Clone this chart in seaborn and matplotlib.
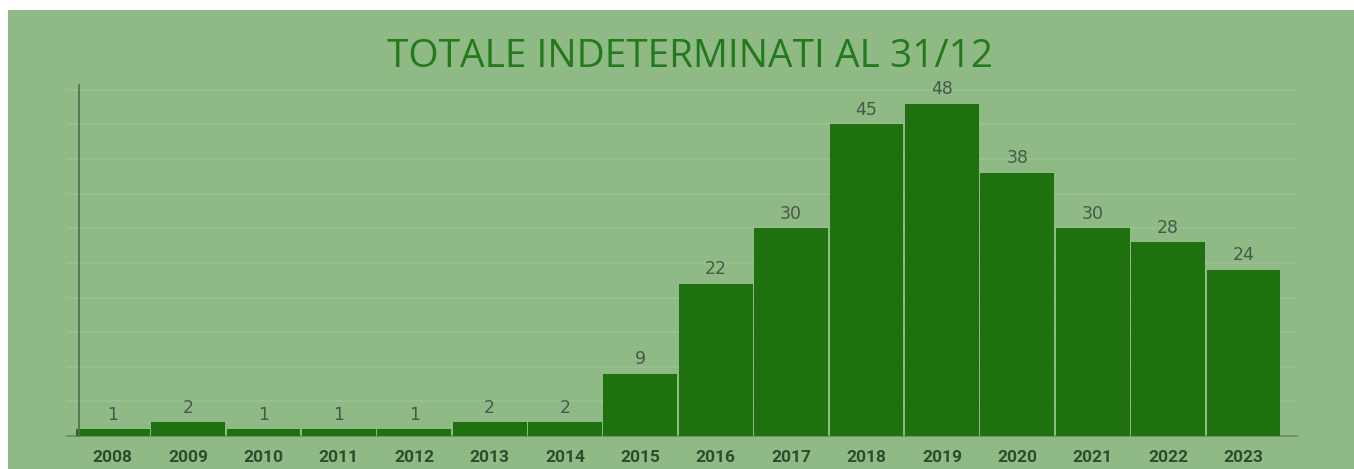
import matplotlib
matplotlib.use("Agg")
import matplotlib.pyplot as plt
import seaborn as sns
import pandas as pd
from matplotlib.patches import Rectangle

sns.set_theme(style="white")

years = ["2008", "2009", "2010", "2011", "2012", "2013", "2014", "2015",
         "2016", "2017", "2018", "2019", "2020", "2021", "2022", "2023"]
totals = [1, 2, 1, 1, 1, 2, 2, 9, 22, 30, 45, 48, 38, 30, 28, 24]
grid_levels = [5, 10, 15, 20, 25, 30, 35, 40, 45, 50]

BG = "#8fba86"
BAR = "#1f700e"
W, H = 1354, 469

df = pd.DataFrame({"anno": years, "totale": totals})

fig = plt.figure(figsize=(W / 100, H / 100), dpi=100, facecolor="white")
# green panel, white strip on top and left
bg = Rectangle((8 / W, 0), 1, (H - 10) / H, transform=fig.transFigure,
               facecolor=BG, edgecolor="none", zorder=-10)
fig.patches.append(bg)

ax = fig.add_axes([67 / W, (H - 436) / H, (1297 - 67) / W, (436 - 85) / H])
ax.set_facecolor("none")
ax.set_zorder(1)

sns.barplot(data=df, x="anno", y="totale", color=BAR, saturation=1, width=0.98,
            linewidth=0, ax=ax, zorder=3)

for lvl in grid_levels:
    ax.axhline(lvl, color="#99c290", lw=1.1, zorder=1)

ax.set_xlim(-0.606, 15.71)
ax.set_ylim(0, 50.7)

for i, v in enumerate(totals):
    ax.annotate(str(v), (i, v), xytext=(0, 4), textcoords="offset points",
                ha="center", va="bottom", fontsize=12.5, color="#48594a",
                family="DejaVu Sans", zorder=4)

ax.set_yticks([])
ax.set_xlabel("")
ax.set_ylabel("")
ax.tick_params(axis="x", length=0, pad=10)
for lab in ax.get_xticklabels():
    lab.set_family("Roboto")
    lab.set_fontweight("bold")
    lab.set_fontsize(12.5)
    lab.set_color("#2f4a2d")

for side in ["top", "right"]:
    ax.spines[side].set_visible(False)
ax.spines["left"].set_position(("data", -0.447))
ax.spines["left"].set_color("#566f50")
ax.spines["left"].set_linewidth(1.3)
ax.spines["bottom"].set_color("#6f8f68")
ax.spines["bottom"].set_linewidth(1.3)
ax.spines["left"].set_zorder(5)

fig.text(690 / W, 1 - 57 / H, "TOTALE INDETERMINATI AL 31/12", ha="center", va="center",
         fontsize=28, color="#237a1c", family="Open Sans")

fig.savefig("out.png", dpi=100, facecolor="white")
